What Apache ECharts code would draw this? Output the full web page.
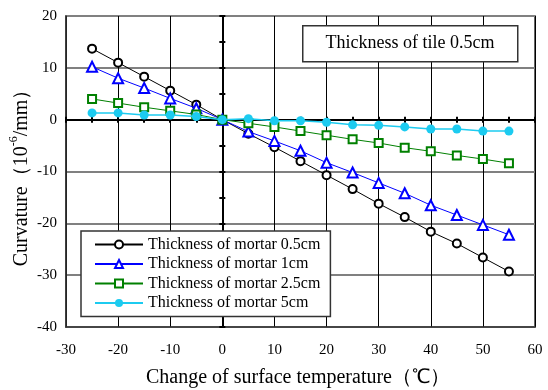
<!DOCTYPE html>
<html><head><meta charset="utf-8">
<script src="https://cdn.jsdelivr.net/npm/echarts@6/dist/echarts.min.js"></script>
<style>html,body{margin:0;padding:0;background:#fff}#c{width:548px;height:390px}</style>
</head><body><div id="c"></div>
<script>
const temps = [-25,-20,-15,-10,-5,0,5,10,15,20,25,30,35,40,45,50,55];
const mortar05 = [13.7,11.0,8.3,5.6,2.9,0,-2.7,-5.3,-8.0,-10.7,-13.4,-16.2,-18.8,-21.6,-23.9,-26.6,-29.3];
const mortar1  = [10.2,8.0,6.1,4.1,2.2,0,-2.3,-4.1,-6.0,-8.3,-10.2,-12.2,-14.2,-16.5,-18.4,-20.3,-22.2];
const mortar25 = [4.0,3.2,2.4,1.7,1.0,0,-0.7,-1.4,-2.2,-3.0,-3.8,-4.5,-5.4,-6.1,-6.9,-7.6,-8.4];
const mortar5  = [1.3,1.3,0.9,0.9,0.6,0,0.2,-0.2,-0.2,-0.5,-1.0,-1.1,-1.4,-1.8,-1.8,-2.2,-2.2];
const seriesNames = ['Thickness of mortar 0.5cm','Thickness of mortar 1cm','Thickness of mortar 2.5cm','Thickness of mortar 5cm'];
const xTitle = 'Change of surface temperature（℃）';
const boxTitle = 'Thickness of tile 0.5cm';

const F = '"Liberation Serif","Times New Roman",serif';
const pair = arr => temps.map((t,i)=>[t,arr[i]]);
const chart = echarts.init(document.getElementById('c'));
const zeroAxisX = (pos) => ({
  type:'value', min:-30, max:60, interval:5, position:pos,
  axisLine:{show:true, onZero:true, onZeroAxisIndex:0, lineStyle:{color:'#000', width:2}},
  axisTick:{show:true, inside:true, length:3, lineStyle:{color:'#000', width:2}},
  axisLabel:{show:false}, splitLine:{show:false}
});
const zeroAxisY = (pos) => ({
  type:'value', min:-40, max:20, interval:5, position:pos,
  axisLine:{show:true, onZero:true, onZeroAxisIndex:0, lineStyle:{color:'#000', width:2}},
  axisTick:{show:true, inside:true, length:3, lineStyle:{color:'#000', width:2}},
  axisLabel:{show:false}, splitLine:{show:false}
});
chart.setOption({
  animation:false,
  textStyle:{fontFamily:F},
  grid:{left:66, right:13, top:16, bottom:63, show:true, borderColor:'#333', borderWidth:1.5},
  xAxis:[{
    type:'value', min:-30, max:60, interval:10, position:'bottom',
    axisLine:{show:true, onZero:false, lineStyle:{color:'#333', width:1.5}},
    axisTick:{show:false},
    axisLabel:{color:'#000', fontSize:15, fontFamily:F, margin:16},
    splitLine:{show:true, lineStyle:{color:'#000', width:1}}
  }, zeroAxisX('bottom'), zeroAxisX('top')],
  yAxis:[{
    type:'value', min:-40, max:20, interval:10, position:'left',
    axisLine:{show:true, onZero:false, lineStyle:{color:'#333', width:1.5}},
    axisTick:{show:false},
    axisLabel:{color:'#000', fontSize:15, fontFamily:F, margin:9},
    splitLine:{show:true, lineStyle:{color:'#808080', width:2}}
  }, zeroAxisY('left'), zeroAxisY('right')],
  legend:{
    left:81, top:231, orient:'vertical', itemWidth:48, itemHeight:10, itemGap:3.5,
    padding:[5.5,10,5.5,13], backgroundColor:'#fff', borderColor:'#333', borderWidth:1.5,
    textStyle:{fontFamily:F, fontSize:16, lineHeight:16, color:'#000'},
    data:seriesNames
  },
  series:[
    {name:seriesNames[0], type:'line', data:pair(mortar05), symbol:'emptyCircle', symbolSize:8,
     itemStyle:{color:'#000', borderWidth:1.5}, lineStyle:{color:'#000', width:1}, z:3},
    {name:seriesNames[1], type:'line', data:pair(mortar1), symbol:'emptyTriangle', symbolSize:10,
     itemStyle:{color:'#0000ff', borderWidth:2}, lineStyle:{color:'#0000ff', width:1}, z:4},
    {name:seriesNames[2], type:'line', data:pair(mortar25), symbol:'emptyRect', symbolSize:8,
     itemStyle:{color:'#008000', borderWidth:2}, lineStyle:{color:'#008000', width:1}, z:5},
    {name:seriesNames[3], type:'line', data:pair(mortar5), symbol:'circle', symbolSize:9,
     itemStyle:{color:'#1ccbf0'}, lineStyle:{color:'#1ccbf0', width:1.5}, z:6}
  ],
  graphic:[
    {type:'rect', left:302, top:25, shape:{width:215, height:36}, style:{fill:'#fff', stroke:'#333', lineWidth:1.5}, z:10},
    {type:'text', x:410, y:43, style:{text:boxTitle, font:'18px '+F, fill:'#000', align:'center', verticalAlign:'middle'}, z:11},
    {type:'text', x:298, y:378, style:{text:xTitle, font:'20px '+F, fill:'#000', align:'center', verticalAlign:'middle'}, z:11},
    {type:'text', x:20, y:173, rotation:Math.PI/2, style:{
      text:'{a|Curvature（10}{s|-6}{a|/mm）}', align:'center', verticalAlign:'middle',
      rich:{a:{fontFamily:F, fontSize:20, fill:'#000', lineHeight:24, verticalAlign:'bottom'}, s:{fontFamily:F, fontSize:12, fill:'#000', lineHeight:24, verticalAlign:'top'}}
    }, z:11}
  ]
});
</script></body></html>
